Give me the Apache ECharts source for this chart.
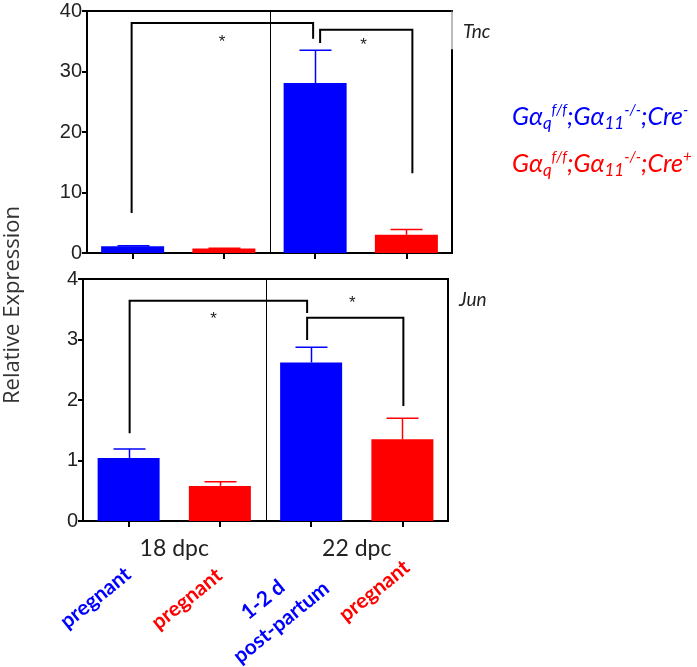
<!DOCTYPE html>
<html><head><meta charset="utf-8">
<script src="https://cdn.jsdelivr.net/npm/echarts@6/dist/echarts.min.js"></script>
<style>html,body{margin:0;padding:0;background:#fff}#c{width:697px;height:667px}</style>
</head><body><div id="c"></div>
<script>
// ---- data ----
const categories = ['pregnant', 'pregnant', '1-2 d\npost-partum', 'pregnant'];
const catColors = ['#0000FF', '#FF0000', '#0000FF', '#FF0000'];
const groupLabels = ['18 dpc', '22 dpc'];
const tncMean = [1.1, 0.75, 28.1, 3.0];
const tncSem = [0.1, 0.05, 5.4, 0.9];
const junMean = [1.04, 0.58, 2.62, 1.35];
const junSem = [0.15, 0.07, 0.25, 0.35];
const tncTicks = [0, 10, 20, 30, 40];
const junTicks = [0, 1, 2, 3, 4];
// brackets: [leftCat, rightCat, barY, leftEndY, rightEndY]
const tncBrackets = [[0, 2, 38.0, 6.6, 35.4], [2, 3, 36.9, 34.7, 13.2]];
const junBrackets = [[0, 2, 3.64, 1.45, 3.44], [2, 3, 3.36, 2.99, 1.9]];
// stars: [category position, y]
const tncStars = [[0.98, 34.9], [2.53, 34.4]];
const junStars = [[0.93, 3.34], [2.45, 3.59]];
const panelNames = ['Tnc', 'Jun'];

// ---- layout tweaks (pixels) ----
const tncBracketOff = [[-1, -2], [5, 6]];
const junBracketOff = [[1, -4], [-4, 1]];
const catLabelOff = [[-33, 77], [-33, 78], [-39, 90], [-28, 70]];

const chart = echarts.init(document.getElementById('c'), null, {renderer: 'canvas'});

function errSeries(mean, sem, idx) {
  return {
    type: 'custom', xAxisIndex: idx, yAxisIndex: idx, z: 5, clip: false,
    data: mean.map((m, i) => [i, m, m + sem[i]]),
    renderItem: function (params, api) {
      const i = api.value(0);
      const p0 = api.coord([i, api.value(1)]);
      const p1 = api.coord([i, api.value(2)]);
      const c = catColors[i];
      const x = Math.round(p0[0]) + 0.5;
      return {type: 'group', children: [
        {type: 'line', shape: {x1: x, y1: p0[1], x2: x, y2: p1[1]}, style: {stroke: c, lineWidth: 1.5}},
        {type: 'line', shape: {x1: x - 16, y1: p1[1], x2: x + 16, y2: p1[1]}, style: {stroke: c, lineWidth: 1.5}}
      ]};
    }
  };
}

function annotSeries(idx, brackets, boff, stars, isTop) {
  return {
    type: 'custom', xAxisIndex: idx, yAxisIndex: idx, z: 10, clip: false, silent: true,
    data: [[0, 0]],
    renderItem: function (params, api) {
      const cs = params.coordSys;
      const L = cs.x, T = cs.y, R = cs.x + cs.width, B = cs.y + cs.height;
      const bw = api.size([1, 0])[0];
      const cx = (c) => api.coord([Math.floor(c), 0])[0] + (c - Math.floor(c)) * bw;
      const cy = (v) => api.coord([0, v])[1];
      const ch = [];
      const line = (x1, y1, x2, y2, w, col) => ch.push({type: 'line', shape: {x1, y1, x2, y2}, style: {stroke: col || '#000', lineWidth: w, lineCap: 'square'}});
      // frame
      line(L, T, R, T, 2);
      if (isTop) {
        const yb = cy(33.5);
        line(R, T, R, yb, 1, '#777');
        line(R, yb, R, B, 2);
      } else {
        line(R, T, R, B, 2);
      }
      // divider
      const xm = Math.round((L + R) / 2) + 0.5;
      line(xm, T, xm, B, 1);
      // brackets
      brackets.forEach((b, k) => {
        const xl = cx(b[0]) + boff[k][0], xr = cx(b[1]) + boff[k][1];
        const yt = cy(b[2]);
        ch.push({type: 'polyline', shape: {points: [[xl, cy(b[3])], [xl, yt], [xr, yt], [xr, cy(b[4])]]},
          style: {stroke: '#000', lineWidth: 2, fill: null}});
      });
      stars.forEach(s => {
        ch.push({type: 'text', x: cx(s[0]), y: cy(s[1]), style: {text: '*', font: '17px "Liberation Sans"', fill: '#222', align: 'center', verticalAlign: 'middle'}});
      });
      // panel name
      ch.push({type: 'text', x: R + 11, y: T + 11, style: {text: panelNames[idx], font: 'italic 19px Lato', fill: '#222', align: 'left', verticalAlign: 'top'}});
      if (!isTop) {
        // group labels
        groupLabels.forEach((g, k) => {
          const gx = (cx(2 * k) + cx(2 * k + 1)) / 2;
          ch.push({type: 'text', x: gx, y: B + 28, style: {text: g, font: '23px Lato', fill: '#222', align: 'center', verticalAlign: 'middle'}});
        });
        // category labels
        categories.forEach((c, i) => {
          ch.push({type: 'text', x: cx(i) + catLabelOff[i][0], y: B + catLabelOff[i][1], rotation: 39 * Math.PI / 180,
            style: {text: c, font: 'bold 21px Lato', fill: catColors[i], align: 'center', verticalAlign: 'middle', lineHeight: 29}});
        });
      }
      return {type: 'group', children: ch};
    }
  };
}

function legendText(sign) {
  return '{m|G\u03b1}{sub|q}{sup|f/f}{m|;G\u03b1}{sub|11}{sup|-/-}{m|;Cre}{sup|' + sign + '}';
}
function richFor(col) {
  return {
    m: {fontSize: 25, fontStyle: 'italic', fontFamily: 'Lato', fill: col, verticalAlign: 'middle'},
    sub: {fontSize: 17, fontStyle: 'italic', fontFamily: 'Lato', fill: col, padding: [14, 0, 0, 0], verticalAlign: 'middle'},
    sup: {fontSize: 15, fontStyle: 'italic', fontFamily: 'Lato', fill: col, padding: [0, 0, 14, 0], verticalAlign: 'middle'}
  };
}

const yAxisCommon = {
  type: 'value', min: 0,
  axisLine: {show: true, lineStyle: {color: '#000', width: 2}},
  axisTick: {show: true, length: 5, lineStyle: {color: '#000', width: 2}},
  axisLabel: {fontSize: 20, fontFamily: 'Liberation Sans', color: '#222', margin: 5},
  splitLine: {show: false}
};
const xAxisCommon = {
  type: 'category', data: categories, boundaryGap: true,
  axisLine: {show: true, lineStyle: {color: '#000', width: 2}},
  axisTick: {show: true, alignWithLabel: true, length: 6, lineStyle: {color: '#000', width: 2}},
  axisLabel: {show: false},
  splitLine: {show: false}
};

const option = {
  backgroundColor: '#fff',
  animation: false,
  grid: [
    {left: 87, top: 11, width: 365, height: 242, outerBoundsMode: 'none', containLabel: false},
    {left: 83, top: 279, width: 365, height: 242, outerBoundsMode: 'none', containLabel: false}
  ],
  xAxis: [Object.assign({gridIndex: 0}, xAxisCommon), Object.assign({gridIndex: 1}, xAxisCommon)],
  yAxis: [
    Object.assign({}, yAxisCommon, {gridIndex: 0, max: tncTicks[tncTicks.length - 1], interval: tncTicks[1] - tncTicks[0]}),
    Object.assign({}, yAxisCommon, {gridIndex: 1, max: junTicks[junTicks.length - 1], interval: junTicks[1] - junTicks[0]})
  ],
  series: [
    {type: 'bar', xAxisIndex: 0, yAxisIndex: 0, barWidth: 63, z: 2,
      data: tncMean.map((v, i) => ({value: v, itemStyle: {color: catColors[i]}}))},
    {type: 'bar', xAxisIndex: 1, yAxisIndex: 1, barWidth: 62, z: 2,
      data: junMean.map((v, i) => ({value: v, itemStyle: {color: catColors[i]}}))},
    errSeries(tncMean, tncSem, 0),
    errSeries(junMean, junSem, 1),
    annotSeries(0, tncBrackets, tncBracketOff, tncStars, true),
    annotSeries(1, junBrackets, junBracketOff, junStars, false)
  ],
  graphic: [
    {type: 'text', x: 13, y: 305, rotation: Math.PI / 2,
      style: {text: 'Relative Expression', font: '22px "Open Sans"', fill: '#333', align: 'center', verticalAlign: 'middle'}},
    {type: 'text', x: 512, y: 117, style: {text: legendText('-'), rich: richFor('#0000FF'), align: 'left', verticalAlign: 'middle'}},
    {type: 'text', x: 512, y: 164, style: {text: legendText('+'), rich: richFor('#FF0000'), align: 'left', verticalAlign: 'middle'}}
  ]
};
chart.setOption(option);
</script>
</body></html>
